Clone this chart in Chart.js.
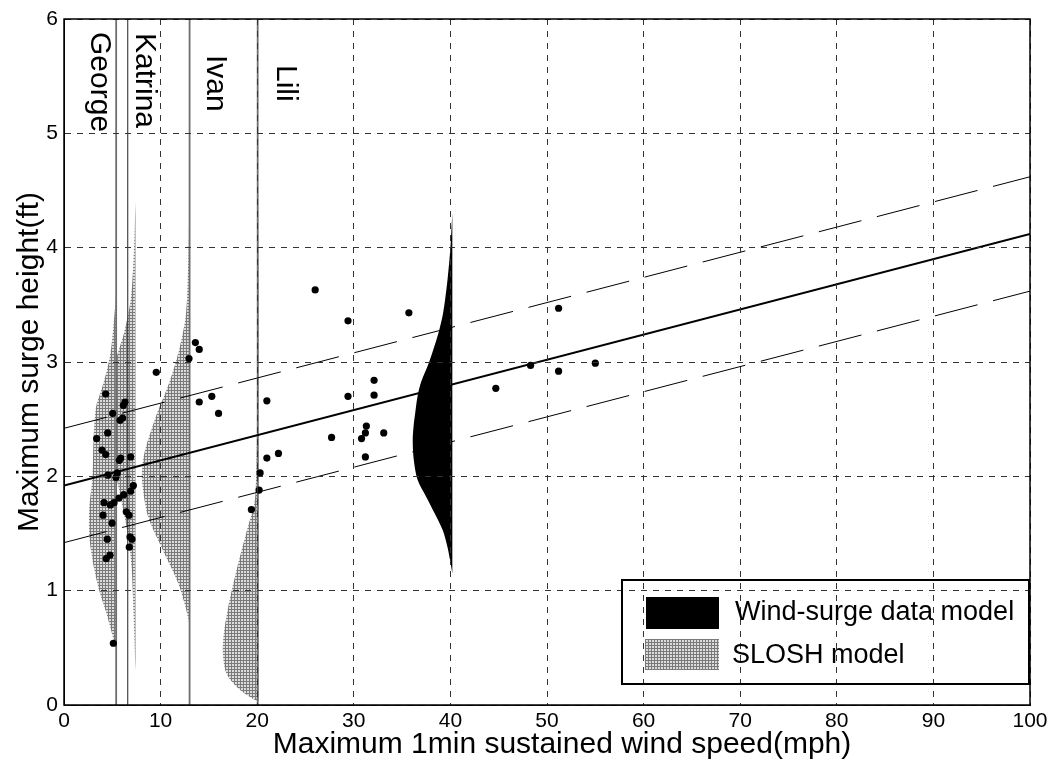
<!DOCTYPE html>
<html>
<head>
<meta charset="utf-8">
<script src="https://cdn.jsdelivr.net/npm/chart.js@4.4.0/dist/chart.umd.min.js"></script>
<style>
  html, body { margin: 0; padding: 0; background: #fff; }
  #wrap { width: 1057px; height: 768px; }
</style>
</head>
<body>
<div id="wrap"><canvas id="surgeChart" width="1057" height="768"></canvas></div>
<script>
const FONT = '"Liberation Sans", Arial, sans-serif';

// hurricanes and the vertical marker lines
const stormNames = ['George', 'Katrina', 'Ivan', 'Lili'];
const stormLineX = [5.4, 6.6, 13.0, 20.05];

// SLOSH model profiles: surge height (y) and width of the profile (in mph units)
const georgeBase = 5.4;
const georgeY = [0.5, 0.6, 0.8, 1.0, 1.2, 1.45, 1.7, 2.0, 2.3, 2.6, 2.75, 2.93, 3.1, 3.3, 3.6];
const georgeW = [0, 0.35, 1.0, 1.75, 2.3, 2.75, 2.8, 2.45, 2.35, 2.1, 1.55, 0.95, 0.55, 0.3, 0];
const katrinaBase = 7.4;
const katrinaY = [0.3, 0.8, 1.2, 1.5, 1.8, 2.1, 2.4, 2.7, 2.96, 3.1, 3.25, 3.54, 3.9, 4.4];
const katrinaW = [0, 0.2, 0.4, 0.8, 1.5, 2.2, 2.6, 2.6, 2.2, 1.75, 1.2, 0.5, 0.2, 0];
const ivanBase = 13.0;
const ivanY = [0.7, 0.85, 1.07, 1.36, 1.65, 1.94, 2.08, 2.23, 2.52, 2.82, 3.1, 3.4, 3.7, 4.1, 4.5];
const ivanW = [0, 0.4, 1.2, 2.8, 4.3, 4.9, 4.9, 4.6, 3.5, 2.1, 1.1, 0.4, 0.2, 0.08, 0];
const liliBase = 20.15;
const liliY = [0.03, 0.07, 0.16, 0.28, 0.45, 0.63, 0.92, 1.21, 1.5, 1.79, 2.08, 2.5, 3.0, 4.6];
const liliW = [0, 0.9, 2.3, 3.35, 3.7, 3.6, 3.0, 2.2, 1.3, 0.4, 0.25, 0.15, 0.1, 0];

// wind-surge data model profile
const windBase = 40.2;
const windY = [1.15, 1.25, 1.38, 1.53, 1.68, 1.82, 1.97, 2.15, 2.32, 2.45, 2.55, 2.7, 2.82, 3.0, 3.25, 3.43, 3.72, 4.0, 4.3];
const windW = [0, 0.2, 0.5, 1.0, 1.85, 2.7, 3.6, 4.0, 4.1, 4.0, 3.85, 3.6, 3.25, 2.4, 1.45, 0.95, 0.5, 0.2, 0];

// observed surges
const obsX = [4.32, 6.31, 6.14, 5.04, 5.80, 6.07, 4.52, 3.38, 3.93, 4.32, 5.73, 5.87, 6.9, 4.55, 5.52, 5.38, 7.18, 6.9, 6.18, 5.69,
  4.14, 4.8, 5.18, 4.04, 6.45, 6.73, 4.97, 4.48, 6.83, 7.04, 6.76, 4.38, 4.76, 5.11,
  9.55, 12.94, 13.6, 14.0, 14.0, 15.3, 16.0, 19.4, 20.2, 20.3, 21.0, 21.0, 22.2, 26.0, 29.4, 29.4, 27.7, 30.8, 31.2, 31.3,
  31.2, 32.1, 32.1, 33.1, 35.7, 44.7, 48.3, 51.2, 51.2, 55.0];
const obsY = [2.72, 2.65, 2.62, 2.55, 2.49, 2.51, 2.38, 2.33, 2.23, 2.19, 2.14, 2.16, 2.17, 2.01, 2.03, 1.99, 1.92, 1.87, 1.84, 1.81,
  1.77, 1.75, 1.77, 1.66, 1.69, 1.66, 1.59, 1.45, 1.47, 1.45, 1.38, 1.28, 1.31, 0.54,
  2.91, 3.03, 3.17, 3.11, 2.65, 2.70, 2.55, 1.71, 1.88, 2.03, 2.66, 2.16, 2.20, 3.63, 3.36, 2.70, 2.34, 2.33, 2.38, 2.44,
  2.17, 2.84, 2.71, 2.38, 3.43, 2.77, 2.97, 3.47, 2.92, 2.99];

// fitted line and its +/- band
const fitX = [0, 100];
const fitMid = [1.92, 4.12];
const fitUpper = [2.42, 4.62];
const fitLower = [1.42, 3.62];

const xTitle = 'Maximum 1min sustained wind speed(mph)';
const yTitle = 'Maximum surge height(ft)';
const legendLabels = ['Wind-surge data model', 'SLOSH model'];

function makeHatch() {
    const c = document.createElement('canvas');
    c.width = 3; c.height = 3;
    const g = c.getContext('2d');
    g.fillStyle = '#dcdcdc'; g.fillRect(0, 0, 3, 3);
    g.fillStyle = '#7a7a7a'; g.fillRect(0, 0, 3, 1); g.fillRect(0, 0, 1, 3);
    return g.createPattern(c, 'repeat');
}
const hatch = makeHatch();

function profile(base, ys, ws, color, order) {
    return {
        type: 'line',
        indexAxis: 'y',
        data: ys.map((y, i) => ({ x: base - ws[i], y: y })),
        fill: { value: base },
        backgroundColor: color,
        borderColor: 'rgba(0,0,0,0)',
        borderWidth: 0,
        pointRadius: 0,
        tension: 0.3,
        order: order
    };
}

function straight(xs, ys, width, dash, order) {
    return {
        type: 'line',
        data: xs.map((x, i) => ({ x: x, y: ys[i] })),
        borderColor: '#000',
        borderWidth: width,
        borderDash: dash,
        pointRadius: 0,
        fill: false,
        order: order
    };
}

const datasets = [
    {
        type: 'scatter',
        data: obsX.map((x, i) => ({ x: x, y: obsY[i] })),
        backgroundColor: '#000',
        borderWidth: 0,
        pointRadius: 3.6,
        order: 0
    },
    profile(windBase, windY, windW, '#000', 1),
    straight(fitX, fitMid, 2, [], 2),
    straight(fitX, fitUpper, 1, [44, 16], 2),
    straight(fitX, fitLower, 1, [44, 16], 2),
    ...stormLineX.map((x, i) => ({
        type: 'line',
        data: [{ x: x, y: 0 }, { x: x, y: 6 }],
        borderColor: i === 1 ? '#222' : '#6e6e6e',
        borderWidth: i === 1 ? 1 : 1.8,
        pointRadius: 0,
        fill: false,
        order: 3
    })),
    profile(georgeBase, georgeY, georgeW, hatch, 4),
    profile(katrinaBase, katrinaY, katrinaW, hatch, 5),
    profile(ivanBase, ivanY, ivanW, hatch, 4),
    profile(liliBase, liliY, liliW, hatch, 4)
];

const decorations = {
    id: 'decorations',
    afterDraw(chart) {
        const { ctx, chartArea: a } = chart;
        ctx.save();
        ctx.setLineDash([]);
        ctx.strokeStyle = '#000';
        ctx.lineWidth = 1.5;
        ctx.strokeRect(a.left, a.top, a.right - a.left, a.bottom - a.top);

        ctx.fillStyle = '#000';
        // x axis title
        ctx.font = '30px ' + FONT;
        ctx.textAlign = 'center';
        ctx.textBaseline = 'middle';
        ctx.fillText(xTitle, 562, 745);

        // storm names, written top to bottom
        const nameX = [91, 136, 207, 277];
        const nameTop = [32, 33, 55, 65];
        ctx.textAlign = 'left';
        ctx.textBaseline = 'alphabetic';
        stormNames.forEach((name, i) => {
            ctx.save();
            ctx.translate(nameX[i], nameTop[i]);
            ctx.rotate(Math.PI / 2);
            ctx.fillText(name, 0, 0);
            ctx.restore();
        });

        // legend
        ctx.lineWidth = 2;
        ctx.strokeRect(622, 580, 407, 104);
        ctx.fillRect(646, 597, 73, 32);
        ctx.fillStyle = hatch;
        ctx.fillRect(645, 639, 74, 31);
        ctx.fillStyle = '#000';
        ctx.font = '27px ' + FONT;
        ctx.fillText(legendLabels[0], 735, 620);
        ctx.fillText(legendLabels[1], 732, 663);
        ctx.restore();
    }
};

new Chart(document.getElementById('surgeChart'), {
    type: 'scatter',
    data: { datasets: datasets },
    options: {
        responsive: false,
        animation: false,
        events: [],
        devicePixelRatio: 1,
        layout: { padding: { top: 19, right: 27, left: 0, bottom: 0 } },
        plugins: { legend: { display: false }, tooltip: { enabled: false } },
        scales: {
            x: {
                type: 'linear', min: 0, max: 100,
                afterFit: s => { s.height = 63; },
                ticks: { stepSize: 10, color: '#000', padding: 4, font: { family: FONT, size: 21 } },
                grid: { color: '#333', lineWidth: 1, drawTicks: false, z: 1 },
                border: { display: true, color: '#000', width: 1, dash: [6, 6], z: 1 }
            },
            y: {
                type: 'linear', min: 0, max: 6,
                afterFit: s => { s.width = 64; },
                ticks: { stepSize: 1, color: '#000', padding: 6, font: { family: FONT, size: 21 } },
                grid: { color: '#333', lineWidth: 1, drawTicks: false, z: 1 },
                border: { display: true, color: '#000', width: 1, dash: [6, 6], z: 1 },
                title: { display: true, text: yTitle, color: '#000',
                         font: { family: FONT, size: 30 }, padding: { top: 12, bottom: 0 } }
            }
        }
    },
    plugins: [decorations]
});
</script>
</body>
</html>
